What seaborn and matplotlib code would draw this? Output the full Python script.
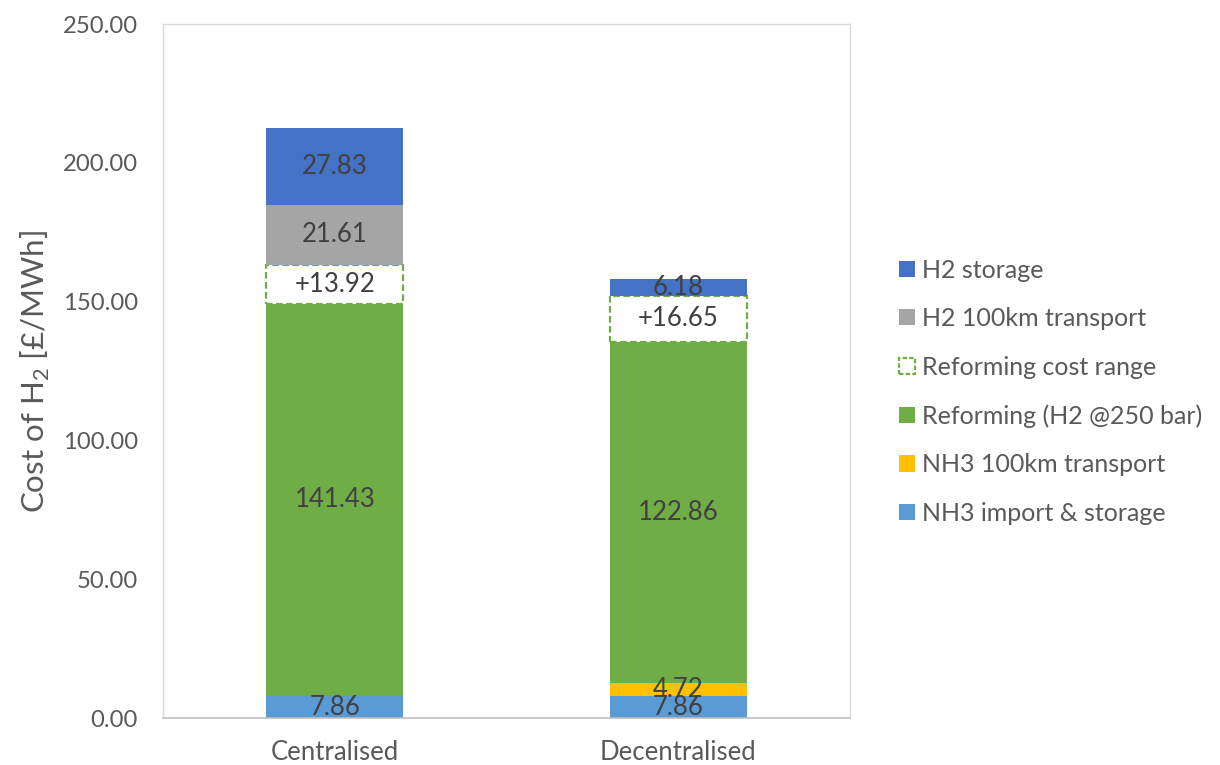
import numpy as np
import pandas as pd
import matplotlib
matplotlib.use("Agg")
import matplotlib.pyplot as plt
import seaborn as sns
from matplotlib.patches import Patch

# =====================================================
# DATA
# =====================================================
categories = ["Centralised", "Decentralised"]
nh3_import = [7.86, 7.86]
nh3_transport = [0.0, 4.72]
reforming = [141.43, 122.86]
reforming_range = [13.92, 16.65]
h2_transport = [21.61, 0.0]
h2_storage = [27.83, 6.18]

series_names = ["NH3 import & storage", "NH3 100km transport",
                "Reforming (H2 @250 bar)", "Reforming cost range",
                "H2 100km transport", "H2 storage"]
series_values = [nh3_import, nh3_transport, reforming, reforming_range,
                 h2_transport, h2_storage]
series_colors = ["#5B9BD5", "#FFC000", "#70AD47", "white", "#A5A5A5", "#4472C4"]

# =====================================================
# STYLE
# =====================================================
sns.set_theme(style="white")
plt.rcParams['font.family'] = ['Lato', 'DejaVu Sans']
plt.rcParams['mathtext.fontset'] = 'custom'
plt.rcParams['mathtext.rm'] = 'Lato'

text_gray = "#595959"
label_gray = "#404040"

fig = plt.figure(figsize=(12.2, 7.65), dpi=100)
ax = fig.add_axes([0.1336, 0.0614, 0.5631, 0.9072])

# =====================================================
# STACKED BARS
# =====================================================
bottoms = np.zeros(len(categories))
for name, vals, col in zip(series_names, series_values, series_colors):
    vals = np.array(vals)
    if name == "Reforming cost range":
        sns.barplot(x=categories, y=vals, bottom=bottoms, color=col, width=0.4,
                    edgecolor="#70AD47", linewidth=1.6, linestyle=(0, (3, 1.5)),
                    saturation=1, ax=ax)
    else:
        sns.barplot(x=categories, y=vals, bottom=bottoms, color=col, width=0.4,
                    linewidth=0, saturation=1, ax=ax)
    for i, v in enumerate(vals):
        if v > 0:
            txt = f"+{v:.2f}" if name == "Reforming cost range" else f"{v:.2f}"
            ax.text(i, bottoms[i] + v / 2, txt, ha="center", va="center",
                    fontsize=18.5, color=label_gray)
    bottoms = bottoms + vals

# =====================================================
# AXES
# =====================================================
ax.set_xlim(-0.5, 1.5)
ax.set_ylim(0, 250)
ax.set_yticks(np.arange(0, 251, 50))
ax.set_yticklabels([f"{t:.2f}" for t in np.arange(0, 251, 50)])
ax.set_xlabel("")
ax.set_ylabel(r"Cost of H$_\mathregular{2}$ [£/MWh]", fontsize=22.5, color=text_gray, labelpad=8)
ax.tick_params(axis="both", length=0, labelsize=17.2, colors=text_gray)
ax.tick_params(axis="y", pad=18)
ax.tick_params(axis="x", pad=16)
for lbl in ax.get_xticklabels():
    lbl.set_fontsize(18.5)
for s in ["top", "left", "right"]:
    ax.spines[s].set_color("#D9D9D9")
    ax.spines[s].set_linewidth(1.0)
ax.spines["bottom"].set_color("#BFBFBF")
ax.spines["bottom"].set_linewidth(1.2)

# =====================================================
# LEGEND
# =====================================================
handles = []
for name, col in zip(series_names, series_colors):
    if name == "Reforming cost range":
        handles.append(Patch(facecolor="white", edgecolor="#70AD47",
                             linewidth=1.6, linestyle=(0, (2, 1)), label=name))
    else:
        handles.append(Patch(facecolor=col, edgecolor="none", label=name))
handles = handles[::-1]
leg = fig.legend(handles=handles, loc="center left", bbox_to_anchor=(0.7185, 0.488),
                 frameon=False, fontsize=18, handlelength=0.62, handleheight=0.62,
                 handletextpad=0.3, labelspacing=1.02)
for t in leg.get_texts():
    t.set_color(text_gray)

plt.savefig("out.png", dpi=100)
